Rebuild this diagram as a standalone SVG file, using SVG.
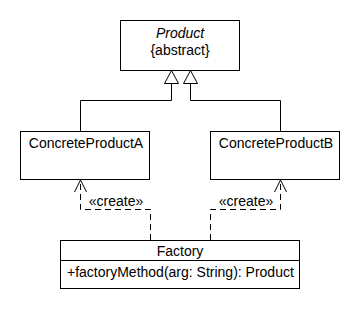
<svg xmlns="http://www.w3.org/2000/svg" width="360" height="310" viewBox="0 0 360 310">
  <style>
    .box { fill: #ffffff; stroke: #000000; stroke-width: 1; }
    .line { fill: none; stroke: #000000; stroke-width: 1; }
    .dash { fill: none; stroke: #000000; stroke-width: 1; stroke-dasharray: 6 4; }
    .txt { font-family: "Liberation Sans", Arial, sans-serif; font-size: 14px; fill: #000000; }
    .mid { text-anchor: middle; }
  </style>
  <rect width="360" height="310" fill="#ffffff"/>

  <g id="connectors">
    <!-- generalization -->
    <path class="line" d="M80.5,131 V100.5 H171.5 V83"/>
    <path class="line" d="M280.5,131 V100.5 H190.5 V83"/>
    <polygon class="box" points="171.5,70.5 164.5,83.5 178.5,83.5"/>
    <polygon class="box" points="190.5,70.5 183.5,83.5 197.5,83.5"/>
    <!-- dependencies -->
    <path class="dash" d="M150.5,240 V209.5 H80.5 V180"/>
    <path class="line" d="M74.5,192 L80.5,180 L86.5,192"/>
    <path class="dash" d="M210.5,240 V209.5 H280.5 V180"/>
    <path class="line" d="M274.5,192 L280.5,180 L286.5,192"/>
    <text class="txt mid" x="116" y="206">«create»</text>
    <text class="txt mid" x="246" y="206">«create»</text>
  </g>

  <g id="product">
    <rect class="box" x="120.5" y="20.5" width="119" height="50"/>
    <text class="txt mid" x="180" y="38" font-style="italic">Product</text>
    <text class="txt mid" x="180" y="55">{abstract}</text>
  </g>

  <g id="concreteProductA">
    <rect class="box" x="20.5" y="131.5" width="129" height="48"/>
    <text class="txt mid" x="86" y="148">ConcreteProductA</text>
  </g>

  <g id="concreteProductB">
    <rect class="box" x="210.5" y="131.5" width="129" height="48"/>
    <text class="txt mid" x="276" y="148">ConcreteProductB</text>
  </g>

  <g id="factory">
    <rect class="box" x="60.5" y="240.5" width="239" height="48"/>
    <line class="line" x1="60.5" y1="260.5" x2="299.5" y2="260.5"/>
    <text class="txt mid" x="180" y="256">Factory</text>
    <text class="txt" x="67" y="277">+factoryMethod(arg: String): Product</text>
  </g>
</svg>
